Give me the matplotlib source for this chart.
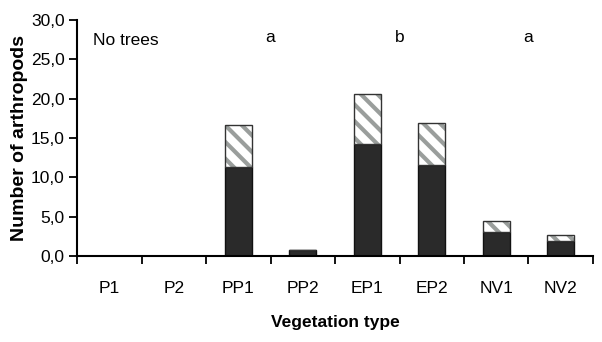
import numpy as np
import matplotlib
matplotlib.use("Agg")
import matplotlib.pyplot as plt

plt.rcParams['font.family'] = ['Liberation Sans', 'DejaVu Sans']
plt.rcParams['hatch.linewidth'] = 3.0

# data
veg = ['P1', 'P2', 'PP1', 'PP2', 'EP1', 'EP2', 'NV1', 'NV2']
dark = [0, 0, 11.3, 0.8, 14.3, 11.6, 3.0, 1.9]
hatched = [0, 0, 5.3, 0, 6.3, 5.3, 1.4, 0.8]
letters = ['a', 'b', 'a']
letter_pos = [2.5, 4.5, 6.5]

fig = plt.figure(figsize=(6.02, 3.42), dpi=100)
ax = fig.add_axes([0.128, 0.2515, 0.857, 0.69])

x = np.arange(len(veg))
ax.bar(x, dark, width=0.42, color='#2a2a2a', edgecolor='#111111', linewidth=1.0)
# gray stripes, then the outline on top
ax.bar(x, hatched, width=0.42, bottom=dark, color='white', edgecolor='#9a9e9c',
       linewidth=0, hatch='\\\\')
ax.bar(x, hatched, width=0.42, bottom=dark, fill=False, edgecolor='#333333',
       linewidth=1.0)

ax.set_xlim(-0.5, len(veg) - 0.5)
ax.set_ylim(0, 30)
ax.set_yticks(np.arange(0, 31, 5))
ax.set_yticklabels([('%.1f' % v).replace('.', ',') for v in np.arange(0, 31, 5)])
ax.set_xticks(x)
ax.set_xticklabels(veg)
ax.set_xticks(np.arange(-0.5, len(veg), 1), minor=True)
ax.tick_params(axis='x', which='major', length=0, pad=18, labelsize=12.5)
ax.tick_params(axis='x', which='minor', length=6, width=1.3, direction='out')
ax.tick_params(axis='y', length=6, width=1.3, labelsize=12.5, pad=3)

for s in ['top', 'right']:
    ax.spines[s].set_visible(False)
for s in ['left', 'bottom']:
    ax.spines[s].set_linewidth(1.5)

ax.text(-0.25, 27.4, 'No trees', fontsize=12.5, va='center', ha='left')
for p, l in zip(letter_pos, letters):
    ax.text(p, 27.8, l, fontsize=12.5, va='center', ha='center')

ax.set_xlabel('Vegetation type', fontsize=12.5, fontweight='bold', labelpad=14)
ax.set_ylabel('Number of arthropods', fontsize=14, fontweight='bold', labelpad=2)

fig.savefig('out.png', dpi=100)
